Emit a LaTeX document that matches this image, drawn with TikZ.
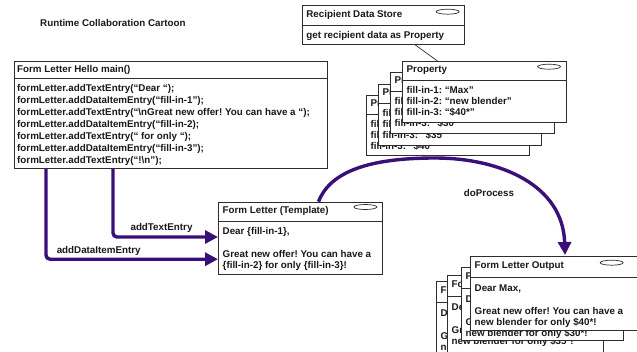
\documentclass[tikz,border=0pt]{standalone}
\usepackage{fontspec}
\setmainfont{Liberation Sans}
\usetikzlibrary{arrows.meta,calc,shapes.geometric}
\definecolor{flowpurple}{RGB}{58,16,120}
\definecolor{boxgray}{RGB}{45,45,45}
\definecolor{txtcol}{RGB}{25,25,25}

\tikzset{
  every node/.style={inner sep=0pt, text=txtcol, font=\fontsize{9.8}{11.2}\selectfont\bfseries\frenchspacing},
  umlframe/.style={draw=boxgray, line width=1pt, fill=white, anchor=north west, inner sep=0pt},
  divider/.style={draw=boxgray, line width=1pt},
  hdr/.style={anchor=west},
  bodytxt/.style={anchor=north west, align=left},
  ovalmark/.style={draw=boxgray, line width=0.7pt, ellipse, minimum width=23pt, minimum height=5pt, inner sep=0pt},
  flow/.style={draw=flowpurple, line width=3.4pt, rounded corners=4pt, -{Triangle[length=13pt,width=13pt]}},
  flowlbl/.style={anchor=center},
  thinlink/.style={draw=boxgray, line width=0.7pt}
}

% name, x, y, w, h, header height, body top offset, header, body
\newcommand{\umlbox}[9]{%
  \node[umlframe, minimum width=#4pt, minimum height=#5pt] (#1) at (#2,#3) {};
  \draw[divider] ([yshift=-#6pt]#1.north west) -- ([yshift=-#6pt]#1.north east);
  \node[hdr] (#1-h) at ([xshift=4.5pt,yshift=-#6pt/2]#1.north west) {#8};
  \node[bodytxt] (#1-b) at ([xshift=4.5pt,yshift=-#7pt]#1.north west) {#9};
}

\begin{document}
\frenchspacing
\begin{tikzpicture}[x=1pt,y=-1pt]
\useasboundingbox (0,0) rectangle (637,351);
\clip (0,0) rectangle (637,351);

% title
\node[anchor=west] (title) at (40,23) {Runtime Collaboration Cartoon};

% main box
\node[umlframe, minimum width=313pt, minimum height=107pt] (main) at (14,61) {};
\draw[divider] ([yshift=-17pt]main.north west) -- ([yshift=-17pt]main.north east);
\node[hdr] (main-h) at ([xshift=3pt,yshift=-8.5pt]main.north west) {Form Letter Hello main()};
\node[bodytxt, font=\fontsize{9.8}{12.05}\selectfont\bfseries\frenchspacing] (main-b) at ([xshift=3pt,yshift=-23.2pt]main.north west)
{formLetter.addTextEntry(“Dear “);\\
formLetter.addDataItemEntry(“fill-in-1”);\\
formLetter.addTextEntry(“\textbackslash nGreat new offer! You can have a “);\\
formLetter.addDataItemEntry(“fill-in-2);\\
formLetter.addTextEntry(“ for only “);\\
formLetter.addDataItemEntry(“fill-in-3”);\\
formLetter.addTextEntry(“!\textbackslash n”);};

% recipient data store
\umlbox{rds}{301.7}{5}{162.3}{39}{20}{26.5}{Recipient Data Store}{get recipient data as Property}
\node[ovalmark] (rds-o) at ([xshift=-17.3pt,yshift=-6.7pt]rds.north east) {};

% property stack (back to front)
\umlbox{prop4}{366}{95}{163}{60}{19}{24.8}{Property}{fill-in-1: “Max”\\fill-in-2: “new blender”\\fill-in-3: “\$40”}
\node[ovalmark] at ([xshift=-18pt,yshift=-5.7pt]prop4.north east) {};
\umlbox{prop3}{378}{84}{163}{61}{19}{24.8}{Property}{fill-in-1: “Max”\\fill-in-2: “new blender”\\fill-in-3: “\$35”}
\node[ovalmark] at ([xshift=-18pt,yshift=-5.7pt]prop3.north east) {};
\umlbox{prop2}{390}{72}{164}{61}{19}{24.8}{Property}{fill-in-1: “Max”\\fill-in-2: “new blender”\\fill-in-3: “\$30”}
\node[ovalmark] at ([xshift=-18pt,yshift=-5.7pt]prop2.north east) {};
\umlbox{prop1}{402}{61}{164}{61}{19}{24.8}{Property}{fill-in-1: “Max”\\fill-in-2: “new blender”\\fill-in-3: “\$40*”}
\node[ovalmark] (prop1-o) at ([xshift=-18pt,yshift=-5.7pt]prop1.north east) {};

\draw[thinlink] ([xshift=32pt]rds.south) -- ([xshift=-47pt]prop1.north);

% template
\umlbox{tmpl}{218}{201.7}{164}{72.3}{19.3}{25.8}{Form Letter (Template)}{Dear \{fill-in-1\},\\[11.2pt]Great new offer! You can have a\\\{fill-in-2\} for only \{fill-in-3\}!}
\node[ovalmark] (tmpl-o) at ([xshift=-17.7pt,yshift=-5.3pt]tmpl.north east) {};

% output stack (back to front)
\umlbox{out4}{436}{281}{158}{80}{21}{28.8}{Form Letter Output}{Dear Max,\\[11.5pt]Great new offer! You can have a\\new blender for only \$40*!}
\umlbox{out3}{447}{275}{156}{80}{21}{28.8}{Form Letter Output}{Dear Max,\\[11.5pt]Great new offer! You can have a\\new blender for only \$35*!}
\umlbox{out2}{461}{267}{162}{73}{21}{28.8}{Form Letter Output}{Dear Max,\\[11.5pt]Great new offer! You can have a\\new blender for only \$30*!}
\node[ovalmark] at ([xshift=-17.7pt,yshift=-6.7pt]out2.north east) {};
\umlbox{out1}{470}{256}{172}{74}{21}{28.8}{Form Letter Output}{Dear Max,\\[11.5pt]Great new offer! You can have a\\new blender for only \$40*!}
\node[ovalmark] (out1-o) at ([xshift=141.7pt,yshift=-6.7pt]out1.north west) {};

% connectors
\coordinate (te) at ($(tmpl.north west)+(0,35.3)$);
\coordinate (de) at ($(tmpl.north west)+(0,57.5)$);
\draw[flow] ($(main.south west)+(99,0)$) |- (te);
\draw[flow] ($(main.south west)+(32,0)$) |- (de);
\node[flowlbl] (lte) at (161.5,228.3) {addTextEntry};
\node[flowlbl] (lde) at (98.7,250.7) {addDataItemEntry};

\draw[flow, rounded corners=0pt] ([xshift=18pt]tmpl.north) .. controls (330,172) and (368,158) .. (435,158)
  .. controls (500,158) and (563,185) .. ([xshift=95pt,yshift=1pt]out1.north west);
\node[flowlbl] (ldp) at (489,193) {doProcess};
\end{tikzpicture}
\end{document}
